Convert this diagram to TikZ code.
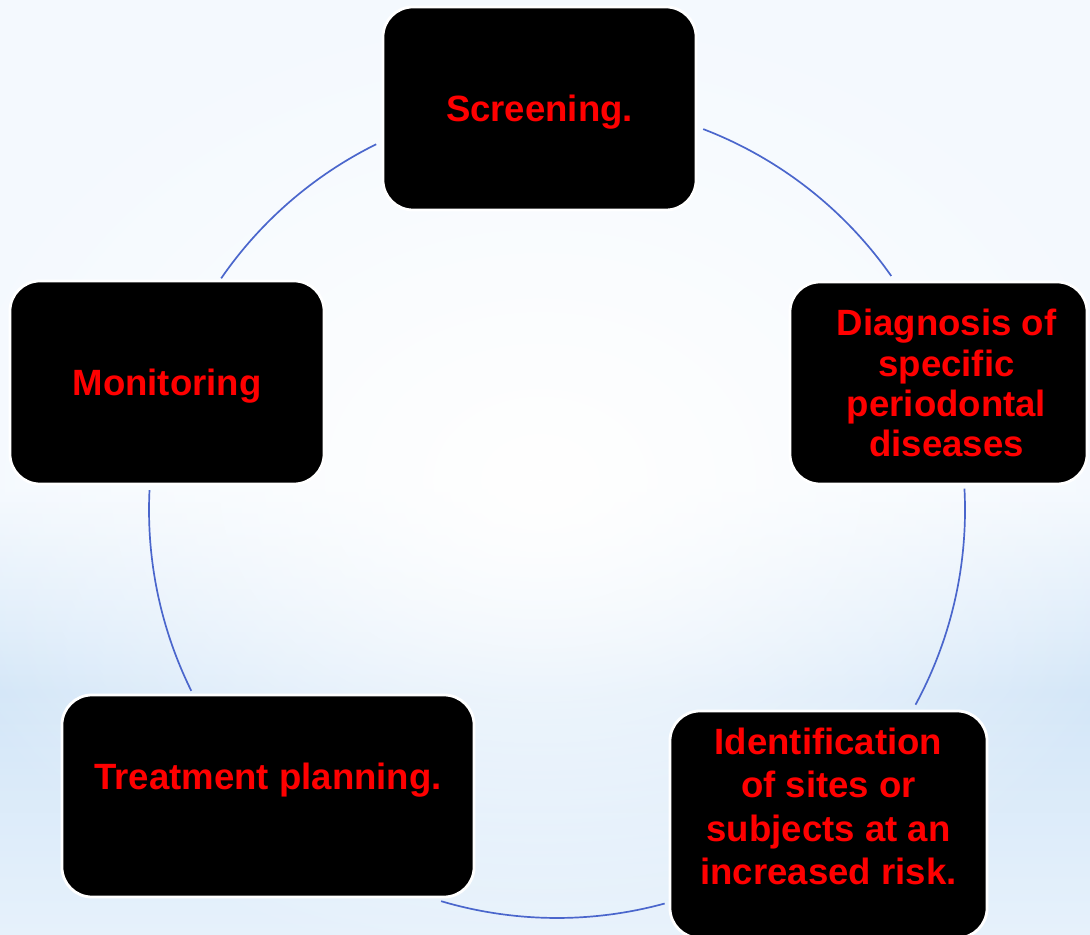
\documentclass[tikz,border=0pt]{standalone}
\usepackage{fontspec}
\setmainfont{Liberation Sans}
\usetikzlibrary{fadings}

\definecolor{skytop}{HTML}{F4F9FE}
\definecolor{skyband}{HTML}{D3E6F8}
\definecolor{skybottom}{HTML}{E6F1FB}
\definecolor{ringblue}{HTML}{4A66CC}

% pale sky behind the cycle, darker band low down
\pgfdeclareverticalshading{sky}{100bp}{
  color(0bp)=(skybottom); color(25bp)=(skybottom);
  color(38bp)=(skyband); color(49bp)=(skytop);
  color(100bp)=(skytop)}
\tikzfading[name=glow, inner color=transparent!0, outer color=transparent!100]

\begin{document}
\begin{tikzpicture}[x=0.025cm, y=0.025cm,
stage/.style={
  draw=white,
  line width=2pt,
  fill=black,
  inner sep=0pt,
  rounded corners=0.75cm},
stagetext/.style={
  font={\bfseries\fontsize{26pt}{31pt}\selectfont},
  text=red,
  align=center},
ring/.style={
  draw=ringblue,
  line width=1.2pt},
]

\path[use as bounding box] (0,0) rectangle (1090,934);
\clip (0,0) rectangle (1090,934);
\shade[shading=sky] (0,0) rectangle (1090,934);
\fill[white, path fading=glow] (540,454) ellipse [x radius=640, y radius=500];

% the ring, broken where the stages sit
\coordinate (hub) at (557,424);
\draw[ring] (hub) ++(69:408) arc[start angle=69, end angle=35, radius=408];
\draw[ring] (hub) ++(3:408) arc[start angle=3, end angle=-28.5, radius=408];
\draw[ring] (hub) ++(-74.7:408) arc[start angle=-74.7, end angle=-106.5, radius=408];
\draw[ring] (hub) ++(206.3:408) arc[start angle=206.3, end angle=177.2, radius=408];
\draw[ring] (hub) ++(145.4:408) arc[start angle=145.4, end angle=116.3, radius=408];

% stages
\node[stage, minimum width=7.825cm, minimum height=5.075cm] (screen) at (539.5,825.5) {};
\node[stagetext, yshift=-0.1cm] (screenlbl) at (screen) {Screening.};

\node[stage, minimum width=7.425cm, minimum height=5.05cm] (diag) at (938.5,551) {};
\node[stagetext, xshift=0.2cm, font={\bfseries\fontsize{26pt}{28.5pt}\selectfont}]
  (diaglbl) at (diag) {Diagnosis of\\specific\\periodontal\\diseases};

\node[stage, minimum width=7.925cm, minimum height=5.675cm] (risk) at (828.5,109.5) {};
\node[stagetext, yshift=0.45cm] (risklbl) at (risk) {Identification\\of sites or\\subjects at an\\increased risk.};

\node[stage, minimum width=10.3cm, minimum height=5.05cm] (plan) at (268,138) {};
\node[stagetext, yshift=0.4cm] (planlbl) at (plan) {Treatment planning.};

\node[stage, minimum width=7.85cm, minimum height=5.075cm] (monitor) at (167,551.5) {};
\node[stagetext, yshift=-0.1cm] (monitorlbl) at (monitor) {Monitoring};

\end{tikzpicture}
\end{document}
